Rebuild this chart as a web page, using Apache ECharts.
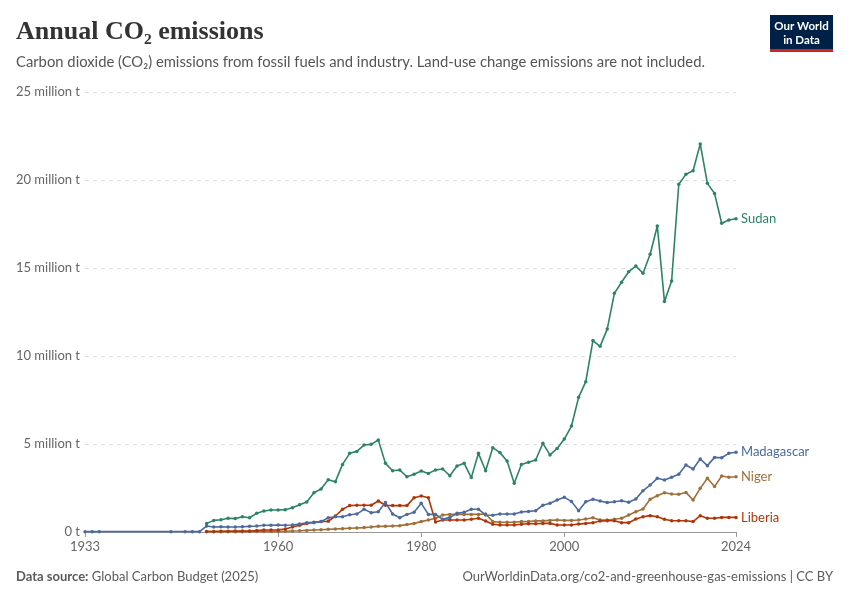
<!DOCTYPE html>
<html>
<head>
<meta charset="utf-8">
<script src="https://cdn.jsdelivr.net/npm/echarts@6/dist/echarts.min.js"></script>
<style>
  html, body { margin: 0; padding: 0; background: #fff; }
  #main { width: 850px; height: 600px; }
</style>
</head>
<body>
<div id="main"></div>
<script>
// values in million tonnes of CO2
const years = [
  1950, 1951, 1952, 1953, 1954, 1955, 1956, 1957, 1958, 1959,
  1960, 1961, 1962, 1963, 1964, 1965, 1966, 1967, 1968, 1969,
  1970, 1971, 1972, 1973, 1974, 1975, 1976, 1977, 1978, 1979,
  1980, 1981, 1982, 1983, 1984, 1985, 1986, 1987, 1988, 1989,
  1990, 1991, 1992, 1993, 1994, 1995, 1996, 1997, 1998, 1999,
  2000, 2001, 2002, 2003, 2004, 2005, 2006, 2007, 2008, 2009,
  2010, 2011, 2012, 2013, 2014, 2015, 2016, 2017, 2018, 2019,
  2020, 2021, 2022, 2023, 2024
];

const sudan = [
  0.49, 0.66, 0.70, 0.78, 0.76, 0.87, 0.81, 1.06, 1.19, 1.25,
  1.25, 1.27, 1.38, 1.55, 1.70, 2.23, 2.44, 2.97, 2.86, 3.84,
  4.47, 4.58, 4.94, 4.98, 5.23, 3.90, 3.48, 3.52, 3.14, 3.28,
  3.47, 3.33, 3.52, 3.58, 3.20, 3.75, 3.90, 3.09, 4.47, 3.48,
  4.79, 4.51, 4.03, 2.77, 3.84, 3.96, 4.09, 5.04, 4.38, 4.75,
  5.28, 6.02, 7.65, 8.54, 10.88, 10.55, 11.53, 13.56, 14.19, 14.79,
  15.11, 14.70, 15.78, 17.39, 13.09, 14.26, 19.76, 20.32, 20.53, 22.05,
  19.81, 19.24, 17.54, 17.73, 17.80
];

const madagascarEarlyYears = [1933, 1934, 1935, 1945, 1947, 1948, 1949];
const madagascarEarly = [0.02, 0.02, 0.02, 0.02, 0.02, 0.02, 0.02];

const madagascar = [
  0.34, 0.28, 0.30, 0.28, 0.28, 0.30, 0.32, 0.34, 0.38, 0.38,
  0.40, 0.38, 0.40, 0.45, 0.53, 0.53, 0.59, 0.81, 0.87, 0.87,
  0.98, 1.02, 1.29, 1.10, 1.15, 1.67, 1.02, 0.81, 1.00, 1.12,
  1.63, 1.00, 1.00, 0.72, 0.83, 1.06, 1.12, 1.29, 1.29, 0.97,
  0.95, 1.02, 1.02, 1.02, 1.14, 1.17, 1.21, 1.52, 1.63, 1.82,
  1.97, 1.74, 1.21, 1.72, 1.86, 1.76, 1.67, 1.72, 1.78, 1.69,
  1.88, 2.35, 2.67, 3.05, 2.95, 3.11, 3.28, 3.81, 3.58, 4.15,
  3.77, 4.24, 4.22, 4.47, 4.53
];

const niger = [
  0.02, 0.02, 0.02, 0.02, 0.02, 0.02, 0.03, 0.03, 0.03, 0.03,
  0.03, 0.04, 0.06, 0.07, 0.09, 0.11, 0.13, 0.15, 0.17, 0.19,
  0.21, 0.23, 0.25, 0.28, 0.32, 0.32, 0.34, 0.36, 0.42, 0.49,
  0.59, 0.68, 0.78, 0.97, 1.00, 1.00, 1.00, 1.00, 1.00, 1.02,
  0.59, 0.55, 0.55, 0.55, 0.59, 0.59, 0.63, 0.63, 0.66, 0.68,
  0.66, 0.66, 0.68, 0.74, 0.81, 0.68, 0.68, 0.72, 0.78, 0.97,
  1.15, 1.31, 1.86, 2.06, 2.23, 2.16, 2.14, 2.25, 1.82, 2.48,
  3.05, 2.58, 3.18, 3.11, 3.14
];

const liberia = [
  0.03, 0.03, 0.04, 0.04, 0.05, 0.05, 0.06, 0.08, 0.11, 0.11,
  0.12, 0.17, 0.28, 0.38, 0.49, 0.55, 0.59, 0.61, 0.91, 1.29,
  1.50, 1.52, 1.52, 1.52, 1.76, 1.52, 1.50, 1.50, 1.50, 1.95,
  2.05, 1.95, 0.57, 0.68, 0.68, 0.68, 0.68, 0.72, 0.78, 0.63,
  0.44, 0.40, 0.40, 0.40, 0.44, 0.47, 0.47, 0.49, 0.49, 0.40,
  0.40, 0.40, 0.45, 0.49, 0.53, 0.62, 0.64, 0.64, 0.53, 0.53,
  0.74, 0.87, 0.93, 0.87, 0.72, 0.64, 0.64, 0.64, 0.59, 0.93,
  0.78, 0.78, 0.83, 0.83, 0.83
];

const xTicks = [1933, 1960, 1980, 2000, 2024];

const colors = {
  Sudan: '#2b8465',
  Madagascar: '#4c6a9c',
  Niger: '#a0703a',
  Liberia: '#b13507'
};

const pairs = (xs, ys) => xs.map((x, i) => [x, ys[i]]);

const myChart = echarts.init(document.getElementById('main'));

function lineSeries(name, data, z) {
  return {
    name: name,
    type: 'line',
    data: data,
    z: z,
    connectNulls: true,
    symbol: 'circle',
    symbolSize: 3.5,
    showSymbol: true,
    lineStyle: { width: 1.6, color: colors[name] },
    itemStyle: { color: colors[name] },
    emphasis: { disabled: true },
    endLabel: {
      show: true,
      formatter: '{a}',
      color: colors[name],
      fontFamily: 'Lato',
      fontSize: 13,
      distance: 5
    },
    animation: false
  };
}

const option = {
  backgroundColor: '#fff',
  animation: false,
  title: [{
    text: 'Annual CO₂ emissions',
    left: 16,
    top: 19,
    padding: 0,
    textStyle: {
      fontFamily: 'Liberation Serif',
      fontWeight: 'bold',
      fontSize: 26,
      color: '#333'
    }
  }, {
    text: 'Carbon dioxide (CO₂) emissions from fossil fuels and industry. Land-use change emissions are not included.',
    left: 16,
    top: 55,
    padding: 0,
    textStyle: {
      fontFamily: 'Lato',
      fontWeight: 'normal',
      fontSize: 14.8,
      color: '#555'
    }
  }],
  grid: {
    left: 85,
    right: 114,
    top: 92,
    bottom: 68,
    containLabel: false
  },
  xAxis: {
    type: 'value',
    min: 1933,
    max: 2024,
    axisLine: { show: true, lineStyle: { color: '#999', width: 1 } },
    axisTick: {
      show: true,
      customValues: xTicks,
      length: 5,
      lineStyle: { color: '#999' }
    },
    axisLabel: {
      customValues: xTicks,
      color: '#666',
      fontFamily: 'Lato',
      fontSize: 13,
      margin: 8,
      formatter: v => String(v)
    },
    splitLine: { show: false }
  },
  yAxis: {
    type: 'value',
    min: 0,
    max: 25,
    interval: 5,
    axisLine: { show: false },
    axisTick: { show: false },
    axisLabel: {
      color: '#666',
      fontFamily: 'Lato',
      fontSize: 13,
      margin: 5,
      formatter: v => (v === 0 ? '0 t' : v + ' million t')
    },
    splitLine: {
      show: true,
      lineStyle: { color: '#ddd', type: [4, 4], width: 1 }
    }
  },
  series: [
    lineSeries('Niger', pairs(years, niger), 2),
    lineSeries('Liberia', pairs(years, liberia), 3),
    lineSeries('Madagascar', pairs(madagascarEarlyYears, madagascarEarly).concat(pairs(years, madagascar)), 4),
    lineSeries('Sudan', pairs(years, sudan), 5)
  ],
  graphic: [
    {
      type: 'rect',
      left: 770,
      top: 15,
      shape: { width: 63, height: 35 },
      style: { fill: '#002147' }
    },
    {
      type: 'rect',
      left: 770,
      top: 49,
      shape: { width: 63, height: 3 },
      style: { fill: '#ce261e' }
    },
    {
      type: 'text',
      x: 801.5,
      y: 19,
      style: {
        text: 'Our World\nin Data',
        fill: '#fff',
        font: 'bold 11.5px Lato',
        lineHeight: 14,
        align: 'center',
        verticalAlign: 'top'
      }
    },
    {
      type: 'text',
      left: 16,
      top: 570,
      style: {
        rich: {
          b: { fontFamily: 'Lato', fontWeight: 'bold', fontSize: 13, fill: '#5b5b5b' },
          n: { fontFamily: 'Lato', fontSize: 13, fill: '#5b5b5b' }
        },
        text: '{b|Data source:} {n|Global Carbon Budget (2025)}'
      }
    },
    {
      type: 'text',
      right: 17,
      top: 570,
      style: {
        text: 'OurWorldinData.org/co2-and-greenhouse-gas-emissions | CC BY',
        font: '13px Lato',
        fill: '#5b5b5b'
      }
    }
  ]
};

myChart.setOption(option);
</script>
</body>
</html>
